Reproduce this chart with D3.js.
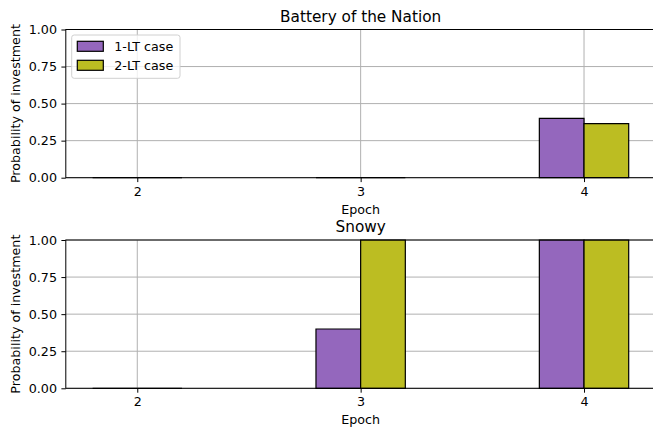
<!DOCTYPE html>
<html><head><meta charset="utf-8">
<script src="https://cdn.jsdelivr.net/npm/d3@7"></script>
<style>body{margin:0;background:#fff}svg{display:block}text{font-family:"DejaVu Sans",sans-serif;fill:#000}</style>
</head><body><svg id="c" width="653" height="431"></svg>
<script>
const epochs = [2, 3, 4];
const seriesNames = ["1-LT case", "2-LT case"];
const seriesColors = ["#9467bd", "#bcbd22"];
const panelTitles = ["Battery of the Nation", "Snowy"];
const batteryOneLT = [0, 0, 0.40];
const batteryTwoLT = [0, 0, 0.365];
const snowyOneLT = [0, 0.40, 1.0];
const snowyTwoLT = [0, 1.0, 1.0];
const yTicks = [0, 0.25, 0.5, 0.75, 1.0];
const barWidth = 0.2;

const panels = [
  {title: panelTitles[0], series: [batteryOneLT, batteryTwoLT], top: 29.5, bottom: 177.7, legend: true},
  {title: panelTitles[1], series: [snowyOneLT, snowyTwoLT], top: 240, bottom: 388.3, legend: false}
];

const svg = d3.select("#c");
const FS = 12.7;
const x = d3.scaleLinear().domain([1.68, 4.32]).range([65.8, 655.5]);

panels.forEach(p => {
  const y = d3.scaleLinear().domain([0, 1]).range([p.bottom, p.top]);
  const g = svg.append("g");
  // grid
  g.append("g").selectAll("line.gy").data(yTicks).join("line")
    .attr("x1", x.range()[0]).attr("x2", x.range()[1])
    .attr("y1", d => y(d)).attr("y2", d => y(d))
    .attr("stroke", "#b0b0b0").attr("stroke-width", 1);
  g.append("g").selectAll("line.gx").data(epochs).join("line")
    .attr("x1", d => x(d)).attr("x2", d => x(d))
    .attr("y1", p.top).attr("y2", p.bottom)
    .attr("stroke", "#b0b0b0").attr("stroke-width", 1);
  // bars
  p.series.forEach((vals, si) => {
    g.append("g").selectAll("path").data(epochs).join("path")
      .attr("d", (e, i) => {
        const x0 = x(e - barWidth + si * barWidth), x1 = x(e + si * barWidth);
        const y0 = y(0), y1 = y(vals[i]);
        return `M${x0},${y0}H${x1}V${y1}H${x0}Z`;
      })
      .attr("fill", seriesColors[si]).attr("stroke", "#000").attr("stroke-width", 1.2)
      .attr("stroke-linejoin", "miter");
  });
  // axes
  const ya = g.append("g").attr("transform", `translate(${x.range()[0]},0)`)
    .call(d3.axisLeft(y).tickValues(yTicks).tickFormat(d3.format(".2f")).tickSizeOuter(0).tickSize(4.4).tickPadding(4.4));
  const xa = g.append("g").attr("transform", `translate(0,${p.bottom})`)
    .call(d3.axisBottom(x).tickValues(epochs).tickFormat(d3.format("d")).tickSizeOuter(0).tickSize(4.4).tickPadding(4.4));
  [ya, xa].forEach(a => {
    a.select(".domain").remove();
    a.selectAll(".tick line").attr("stroke", "#000").attr("stroke-width", 1);
    a.selectAll("text").style("font-size", FS + "px").style("font-family", "DejaVu Sans");
  });
  // spines
  g.append("rect").attr("x", x.range()[0]).attr("y", p.top)
    .attr("width", x.range()[1] - x.range()[0]).attr("height", p.bottom - p.top)
    .attr("fill", "none").attr("stroke", "#000").attr("stroke-width", 1);
  // labels
  const cx = (x.range()[0] + x.range()[1]) / 2;
  g.append("text").attr("x", cx).attr("y", p.top - 7.6).attr("text-anchor", "middle")
    .style("font-size", "15.3px").text(p.title);
  g.append("text").attr("x", cx).attr("y", p.bottom + 36).attr("text-anchor", "middle")
    .style("font-size", FS + "px").text("Epoch");
  g.append("text").attr("transform", `translate(20,${(p.top + p.bottom) / 2}) rotate(-90)`)
    .attr("text-anchor", "middle").style("font-size", FS + "px").text("Probability of investment");
  if (p.legend) {
    const lg = g.append("g");
    lg.append("rect").attr("x", 71.7).attr("y", 35).attr("width", 108.3).attr("height", 43.3)
      .attr("rx", 2.5).attr("fill", "#fff").attr("fill-opacity", 0.8).attr("stroke", "#d0d0d0").attr("stroke-width", 1);
    seriesNames.forEach((n, i) => {
      const yy = 41.3 + i * 19;
      lg.append("rect").attr("x", 77.3).attr("y", yy).attr("width", 26).attr("height", 10)
        .attr("fill", seriesColors[i]).attr("stroke", "#000").attr("stroke-width", 1.2);
      lg.append("text").attr("x", 114.3).attr("y", yy + 9.8).style("font-size", FS + "px").text(n);
    });
  }
});
</script></body></html>
